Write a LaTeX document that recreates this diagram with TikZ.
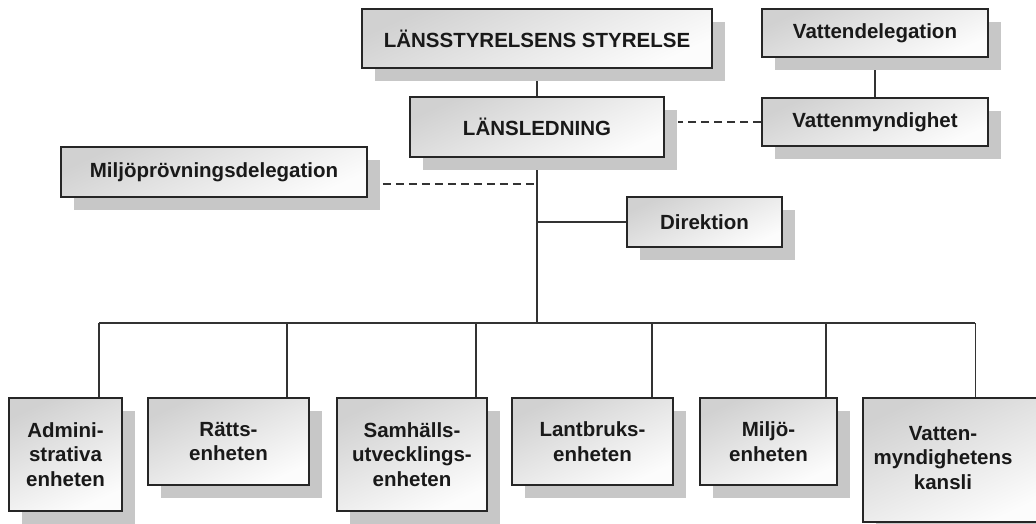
\documentclass[tikz,border=0pt]{standalone}
\usepackage{fontspec}
\setmainfont{Liberation Sans}
\usetikzlibrary{shadows,calc,backgrounds}
\begin{document}
\begin{tikzpicture}[x=1pt,y=-1pt,
  box/.style={draw=black!85, line width=1.6pt, top color=black!18, bottom color=black!1, shading angle=25,
    drop shadow={shadow xshift=13pt, shadow yshift=-13pt, fill=black!22, opacity=1},
    font=\bfseries\fontsize{20.5}{24.5}\selectfont, align=center, inner sep=0pt, text=black!90},
  conn/.style={draw=black!80, line width=1.4pt},
  dashconn/.style={conn, dash pattern=on 8pt off 5pt}]
\useasboundingbox (0,0) rectangle (1036,524);
\clip (0,0) rectangle (1036,524);
% upper boxes
\node[box, minimum width=350, minimum height=59] (top) at (537,38.5) {LÄNSSTYRELSENS STYRELSE};
\node[box, minimum width=254, minimum height=60] (lead) at (537,127) {LÄNSLEDNING};
\node[box, minimum width=226, minimum height=48] (vdel) at (875,33) {Vattendelegation};
\node[box, minimum width=226, minimum height=48] (vmyn) at (875,122) {Vattenmyndighet};
\node[box, minimum width=306, minimum height=50] (miljd) at (214,172) {Miljöprövningsdelegation};
\node[box, minimum width=155, minimum height=50] (dir) at (704.5,222) {Direktion};
% lower boxes
\node[box, minimum width=113, minimum height=113] (adm) at (65.5,454.5) {Admini-\\strativa\\enheten};
\node[box, minimum width=161, minimum height=87] (ratt) at (228.5,441.5) {Rätts-\\enheten};
\node[box, minimum width=150, minimum height=113] (sam) at (412,454.5) {Samhälls-\\utvecklings-\\enheten};
\node[box, minimum width=161, minimum height=87] (lant) at (592.5,441.5) {Lantbruks-\\enheten};
\node[box, minimum width=137, minimum height=87] (milj) at (768.5,441.5) {Miljö-\\enheten};
\node[box, minimum width=186, minimum height=124] (vkans) at (956,460)
  {\begin{tabular}{@{}c@{}}Vatten-\\myndighetens\\kansli\end{tabular}\hspace*{26pt}};
% helper coordinates
\coordinate (bus) at (537,323);
\coordinate (ldash) at ($(lead.east)+(13,0)$);
\coordinate (mdash) at ($(miljd.east)+(15,12)$);
\coordinate (admd) at ($(adm.north east)+(-24,0)$);
\coordinate (rattd) at ($(ratt.north east)+(-23,0)$);
\coordinate (samd) at ($(sam.north east)+(-12,0)$);
\coordinate (lantd) at ($(lant.north east)+(-22,0)$);
\coordinate (miljdd) at ($(milj.north east)+(-12,0)$);
\coordinate (vkd) at ($(vkans.north west)+(113,0)$);
% connectors
\begin{scope}[on background layer]
\fill[white] (0,0) rectangle (1036,524);
\draw[conn] (top.south) -- (lead.north);
\draw[conn] (vdel.south) -- (vmyn.north);
\draw[dashconn] (vmyn.west) -- (vmyn.west -| ldash);
\draw[conn] (lead.south) -- (bus);
\draw[dashconn] (mdash) -- (mdash -| lead.south);
\draw[conn] (dir.west) -- (dir.west -| lead.south);
\draw[conn] (admd |- bus) -- (vkd |- bus);
\foreach \n in {admd,rattd,samd,lantd,miljdd,vkd}
  \draw[conn] (\n) -- (\n |- bus);
\end{scope}
\end{tikzpicture}
\end{document}
